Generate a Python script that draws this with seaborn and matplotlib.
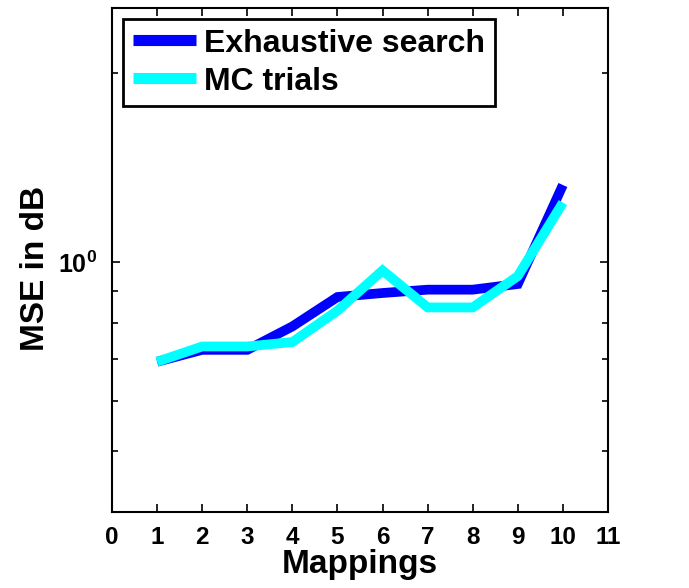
import numpy as np
import pandas as pd
import seaborn as sns
import matplotlib.pyplot as plt
from matplotlib.ticker import NullFormatter, FixedLocator

# Data
mappings = [1, 2, 3, 4, 5, 6, 7, 8, 9, 10]
exhaustive = [0.694, 0.725, 0.725, 0.790, 0.880, 0.893, 0.904, 0.904, 0.923, 1.327]
mc_trials = [0.694, 0.734, 0.734, 0.746, 0.837, 0.970, 0.847, 0.847, 0.950, 1.244]

df = pd.DataFrame({
    'Mappings': mappings * 2,
    'MSE': exhaustive + mc_trials,
    'method': ['Exhaustive search'] * 10 + ['MC trials'] * 10,
})

sns.set_style('white')
plt.rcParams['font.family'] = ['Liberation Sans', 'DejaVu Sans']
plt.rcParams['font.weight'] = 'bold'
plt.rcParams['text.color'] = 'black'
plt.rcParams['axes.labelcolor'] = 'black'
plt.rcParams['xtick.color'] = 'black'
plt.rcParams['ytick.color'] = 'black'
plt.rcParams['mathtext.fontset'] = 'custom'
plt.rcParams['mathtext.rm'] = 'Liberation Sans:bold'
plt.rcParams['mathtext.bf'] = 'Liberation Sans:bold'
plt.rcParams['mathtext.it'] = 'Liberation Sans:bold'

fig = plt.figure(figsize=(6.89, 5.88), dpi=100)
ax = fig.add_axes([0.1626, 0.1293, 0.7198, 0.8571])

sns.lineplot(data=df, x='Mappings', y='MSE', hue='method',
             palette={'Exhaustive search': '#0000ff', 'MC trials': '#00ffff'},
             linewidth=7, ax=ax, legend=False)
for ln in ax.lines:
    ln.set_solid_capstyle('butt')
    ln.set_solid_joinstyle('miter')

ax.set_yscale('log')
ax.set_xlim(0, 11)
ax.set_ylim(0.4, 2.54)
ax.set_xticks(range(0, 12))
ax.yaxis.set_major_locator(FixedLocator([1.0]))
ax.set_yticklabels(['$\\mathbf{10^{0}}$'])
ax.yaxis.set_minor_locator(FixedLocator([0.5, 0.6, 0.7, 0.8, 0.9, 2.0]))
ax.yaxis.set_minor_formatter(NullFormatter())

ax.tick_params(axis='both', which='both', direction='in', top=True, right=True,
               left=True, bottom=True, width=1.2, color='black',
               labelcolor='black')
ax.tick_params(axis='x', labelsize=17.5, pad=10)
ax.tick_params(axis='y', labelsize=18, pad=11)
ax.tick_params(which='major', length=6)
ax.tick_params(which='minor', length=4)
for s in ax.spines.values():
    s.set_color('black')
    s.set_linewidth(1.5)

ax.set_xlabel('Mappings', fontsize=24, fontweight='bold', labelpad=0)
ax.set_ylabel('MSE in dB', fontsize=24, fontweight='bold')
ax.yaxis.set_label_coords(-0.123, 0.484)

h1, = ax.plot([], [], color='#0000ff', linewidth=8, solid_capstyle='butt')
h2, = ax.plot([], [], color='#00ffff', linewidth=8, solid_capstyle='butt')
leg = ax.legend([h1, h2], ['Exhaustive search', 'MC trials'],
                loc='upper left', bbox_to_anchor=(0.022, 0.978),
                fontsize=23, frameon=True, fancybox=False,
                handlelength=2.0, handletextpad=0.25, borderpad=0.3,
                labelspacing=0.25, borderaxespad=0.0)
leg.get_frame().set_edgecolor('black')
leg.get_frame().set_linewidth(2)
leg.get_frame().set_alpha(1)
for t in leg.get_texts():
    t.set_fontweight('bold')
    t.set_color('black')

fig.savefig('out.png', dpi=100)
